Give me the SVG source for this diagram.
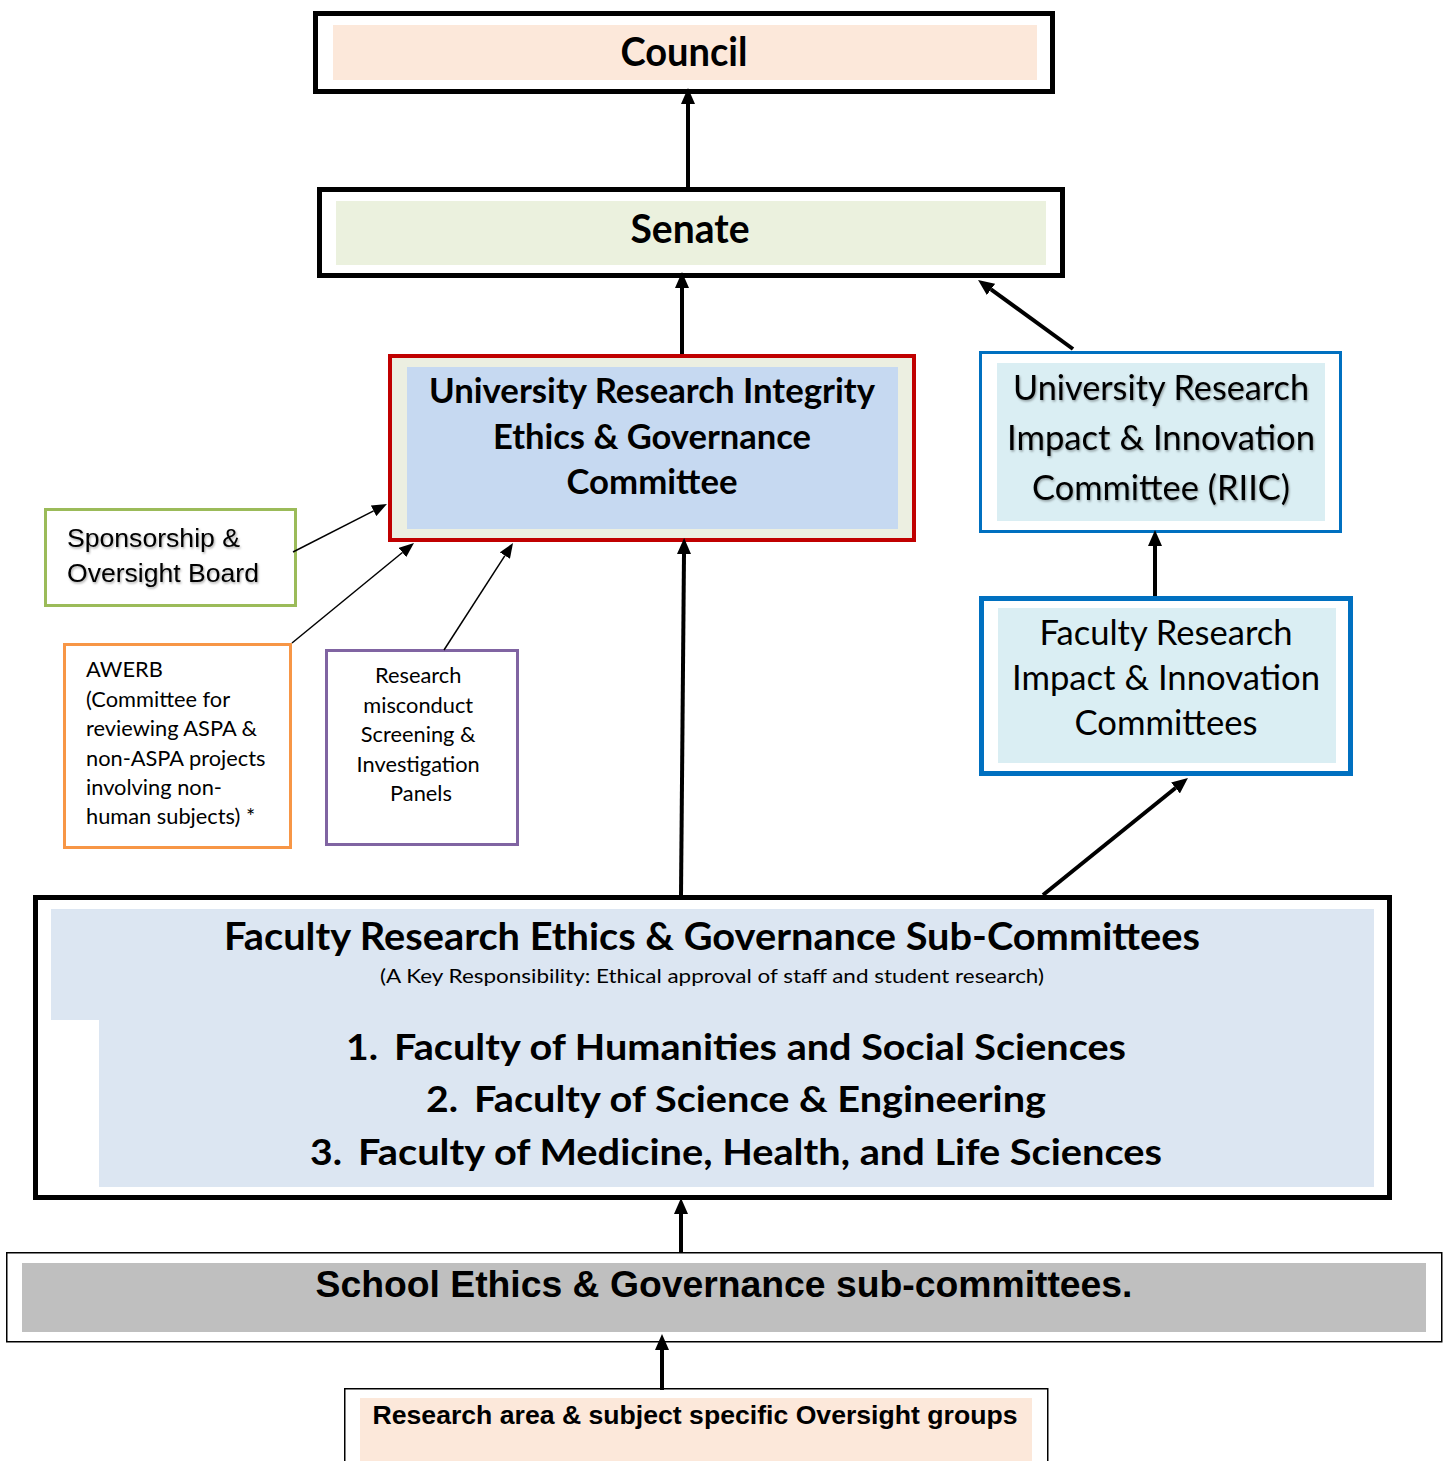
<svg xmlns="http://www.w3.org/2000/svg" width="1445" height="1461" viewBox="0 0 1445 1461">
<defs>
<style>
.cal{font-family:Lato,"Open Sans","Noto Sans",sans-serif;fill:#000}
.b{font-weight:bold}
.ar{font-family:"Liberation Sans",Arial,sans-serif;fill:#000}
.thick{stroke:#000;stroke-width:4;fill:none;marker-end:url(#ah)}
.thin{stroke:#000;stroke-width:1.5;fill:none;marker-end:url(#ahs)}
.sh{filter:url(#tsh)}
</style>
<marker id="ah" viewBox="0 -7 16 14" refX="0" refY="0" markerWidth="16" markerHeight="14" markerUnits="userSpaceOnUse" orient="auto">
<path d="M0,-7 L16,0 L0,7 Z" fill="#000"/>
</marker>
<marker id="ahs" viewBox="0 -6 15 12" refX="0" refY="0" markerWidth="15" markerHeight="12" markerUnits="userSpaceOnUse" orient="auto">
<path d="M0,-6 L15,0 L0,6 Z" fill="#000"/>
</marker>
<filter id="tsh" x="-5%" y="-20%" width="110%" height="140%">
<feDropShadow dx="1" dy="1.5" stdDeviation="1" flood-color="#000" flood-opacity="0.35"/>
</filter>
</defs>

<g id="council">
<rect x="315.5" y="13.5" width="737" height="78" fill="#fff" stroke="#000" stroke-width="5"/>
<rect x="333" y="25" width="704" height="55" fill="#FCE8DA"/>
<text class="cal b" x="684" y="66" font-size="40" text-anchor="middle" textLength="127" lengthAdjust="spacingAndGlyphs">Council</text>
</g>

<g id="senate">
<rect x="319.5" y="189.5" width="743" height="86" fill="#fff" stroke="#000" stroke-width="5"/>
<rect x="336" y="201" width="710" height="64" fill="#EBF1DE"/>
<text class="cal b" x="690" y="243" font-size="40" text-anchor="middle" textLength="119" lengthAdjust="spacingAndGlyphs">Senate</text>
</g>

<g id="uriegc">
<rect x="390" y="356" width="524" height="184" fill="#ECEFE1" stroke="#C00000" stroke-width="4"/>
<rect x="407" y="367" width="491" height="162" fill="#C6D9F1"/>
<text class="cal b" x="652" y="403" font-size="35" text-anchor="middle" textLength="446" lengthAdjust="spacingAndGlyphs">University Research Integrity</text>
<text class="cal b" x="652" y="449" font-size="35" text-anchor="middle" textLength="318" lengthAdjust="spacingAndGlyphs">Ethics &amp; Governance</text>
<text class="cal b" x="652" y="494" font-size="35" text-anchor="middle" textLength="171" lengthAdjust="spacingAndGlyphs">Committee</text>
</g>

<g id="riic">
<rect x="980.5" y="352.5" width="360" height="179" fill="#fff" stroke="#0070C0" stroke-width="3"/>
<rect x="997" y="363" width="328" height="158" fill="#DAEEF3"/>
<text class="cal sh" x="1161" y="400" font-size="34" text-anchor="middle" textLength="296" lengthAdjust="spacingAndGlyphs">University Research</text>
<text class="cal sh" x="1161" y="450" font-size="34" text-anchor="middle" textLength="308" lengthAdjust="spacingAndGlyphs">Impact &amp; Innovation</text>
<text class="cal sh" x="1161" y="500" font-size="34" text-anchor="middle" textLength="258" lengthAdjust="spacingAndGlyphs">Committee (RIIC)</text>
</g>

<g id="faculty-riic">
<rect x="981.5" y="598.5" width="369" height="175" fill="#fff" stroke="#0070C0" stroke-width="5"/>
<rect x="998" y="608" width="338" height="155" fill="#DAEEF3"/>
<text class="cal" x="1166" y="645" font-size="34" text-anchor="middle" textLength="253" lengthAdjust="spacingAndGlyphs">Faculty Research</text>
<text class="cal" x="1166" y="690" font-size="34" text-anchor="middle" textLength="308" lengthAdjust="spacingAndGlyphs">Impact &amp; Innovation</text>
<text class="cal" x="1166" y="735" font-size="34" text-anchor="middle" textLength="183" lengthAdjust="spacingAndGlyphs">Committees</text>
</g>

<g id="sponsorship">
<rect x="45.5" y="509.5" width="250" height="96" fill="#fff" stroke="#9BBB59" stroke-width="3"/>
<text class="ar sh" x="67" y="547" font-size="26" textLength="173" lengthAdjust="spacingAndGlyphs">Sponsorship &amp;</text>
<text class="ar sh" x="67" y="582" font-size="26" textLength="192" lengthAdjust="spacingAndGlyphs">Oversight Board</text>
</g>

<g id="awerb">
<rect x="64.5" y="644.5" width="226" height="203" fill="#fff" stroke="#F79646" stroke-width="3"/>
<text class="cal" font-size="21.8">
<tspan x="86" y="677">AWERB</tspan>
<tspan x="86" y="707">(Committee for</tspan>
<tspan x="86" y="736">reviewing ASPA &amp;</tspan>
<tspan x="86" y="766">non-ASPA projects</tspan>
<tspan x="86" y="795">involving non-</tspan>
<tspan x="86" y="824">human subjects) *</tspan>
</text>
</g>

<g id="misconduct">
<rect x="326.5" y="650.5" width="191" height="194" fill="#fff" stroke="#8064A2" stroke-width="3"/>
<text class="cal" font-size="21.8" text-anchor="middle">
<tspan x="421" y="683">Research</tspan>
<tspan x="421" y="713">misconduct</tspan>
<tspan x="421" y="742">Screening &amp;</tspan>
<tspan x="421" y="772">Investigation</tspan>
<tspan x="421" y="801">Panels</tspan>
</text>
</g>

<g id="faculty-regsc">
<rect x="35.5" y="897.5" width="1354" height="300" fill="#fff" stroke="#000" stroke-width="5"/>
<path d="M51,909 H1374 V1187 H99 V1020 H51 Z" fill="#DCE6F2"/>
<text class="cal b" x="712" y="950" font-size="38" text-anchor="middle" textLength="976" lengthAdjust="spacingAndGlyphs">Faculty Research Ethics &amp; Governance Sub-Committees</text>
<text class="cal" x="712" y="983" font-size="20" text-anchor="middle" textLength="664" lengthAdjust="spacingAndGlyphs">(A Key Responsibility: Ethical approval of staff and student research)</text>
<text class="cal b" x="346" y="1060" font-size="37" textLength="32" lengthAdjust="spacingAndGlyphs">1.</text>
<text class="cal b" x="394" y="1060" font-size="37" textLength="732" lengthAdjust="spacingAndGlyphs">Faculty of Humanities and Social Sciences</text>
<text class="cal b" x="426" y="1112" font-size="37" textLength="32" lengthAdjust="spacingAndGlyphs">2.</text>
<text class="cal b" x="474" y="1112" font-size="37" textLength="572" lengthAdjust="spacingAndGlyphs">Faculty of Science &amp; Engineering</text>
<text class="cal b" x="310" y="1165" font-size="37" textLength="32" lengthAdjust="spacingAndGlyphs">3.</text>
<text class="cal b" x="358" y="1165" font-size="37" textLength="804" lengthAdjust="spacingAndGlyphs">Faculty of Medicine, Health, and Life Sciences</text>
</g>

<g id="school">
<rect x="6.75" y="1252.75" width="1435" height="89" fill="#fff" stroke="#000" stroke-width="1.5"/>
<rect x="22" y="1263" width="1404" height="69" fill="#BFBFBF"/>
<text class="ar b" x="724" y="1297" font-size="37" text-anchor="middle" textLength="817" lengthAdjust="spacingAndGlyphs">School Ethics &amp; Governance sub-committees.</text>
</g>

<g id="research-area">
<rect x="344.75" y="1388.75" width="703" height="80" fill="#fff" stroke="#000" stroke-width="1.5"/>
<rect x="360" y="1398" width="672" height="63" fill="#FCE8DA"/>
<text class="ar b" x="695" y="1424" font-size="26" text-anchor="middle" textLength="645" lengthAdjust="spacingAndGlyphs">Research area &amp; subject specific Oversight groups</text>
</g>

<g id="connectors">
<line class="thick" x1="688" y1="187" x2="688" y2="104"/>
<line class="thick" x1="682" y1="354" x2="682" y2="288"/>
<line class="thick" x1="1073" y1="349" x2="991" y2="289.4"/>
<line class="thick" x1="1155" y1="596" x2="1155" y2="546"/>
<line class="thick" x1="681" y1="895" x2="684" y2="554"/>
<line class="thick" x1="1043" y1="895" x2="1175.5" y2="788"/>
<line class="thick" x1="681" y1="1252" x2="681" y2="1214"/>
<line class="thick" x1="662" y1="1390" x2="662" y2="1350"/>
<line class="thin" x1="293" y1="552" x2="373.6" y2="510.8"/>
<line class="thin" x1="292" y1="643" x2="402.4" y2="552.5"/>
<line class="thin" x1="444" y1="650" x2="504.9" y2="555.6"/>
</g>
</svg>
